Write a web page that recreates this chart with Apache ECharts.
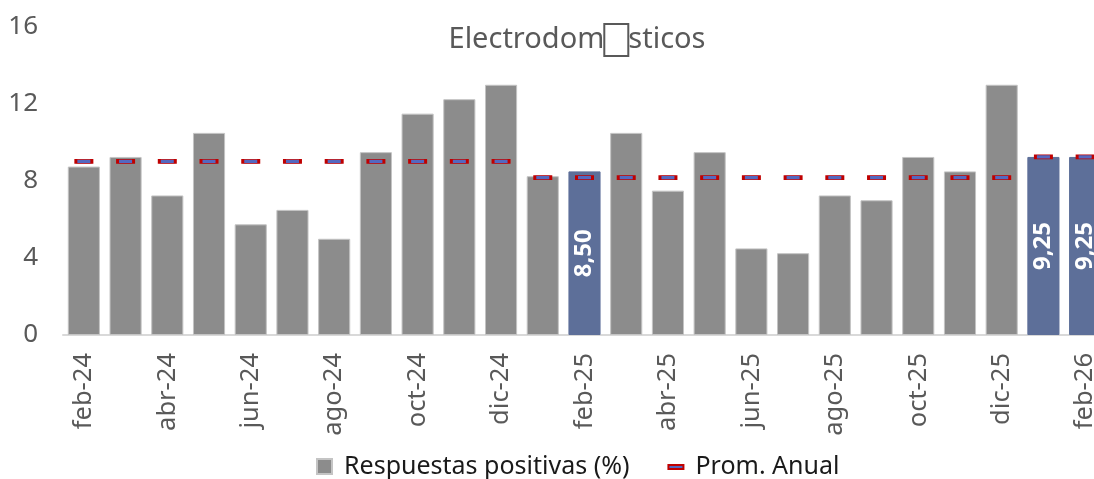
<!DOCTYPE html>
<html>
<head>
<meta charset="utf-8">
<script src="https://cdn.jsdelivr.net/npm/echarts@6/dist/echarts.min.js"></script>
<style>
  html, body { margin: 0; padding: 0; background: #fff; }
  #chart { width: 1094px; height: 479px; }
</style>
</head>
<body>
<div id="chart"></div>
<script>
// meses (cada 2 se muestra la etiqueta)
const meses = ['feb-24', 'mar-24', 'abr-24', 'may-24', 'jun-24', 'jul-24', 'ago-24', 'sep-24', 'oct-24', 'nov-24', 'dic-24',
  'ene-25', 'feb-25', 'mar-25', 'abr-25', 'may-25', 'jun-25', 'jul-25', 'ago-25', 'sep-25', 'oct-25', 'nov-25', 'dic-25',
  'ene-26', 'feb-26'];
const respuestas = [8.75, 9.25, 7.25, 10.5, 5.75, 6.5, 5.0, 9.5, 11.5, 12.25, 13.0,
  8.25, 8.5, 10.5, 7.5, 9.5, 4.5, 4.25, 7.25, 7.0, 9.25, 8.5, 13.0,
  9.25, 9.25];
const promAnual = [9.02, 9.02, 9.02, 9.02, 9.02, 9.02, 9.02, 9.02, 9.02, 9.02, 9.02,
  8.17, 8.17, 8.17, 8.17, 8.17, 8.17, 8.17, 8.17, 8.17, 8.17, 8.17, 8.17,
  9.25, 9.25];
const destacados = ['feb-25', 'ene-26', 'feb-26'];
const yTicks = [0, 4, 8, 12, 16];

const fuente = '"Noto Sans", "Open Sans", sans-serif';
const gris = '#8c8c8c', azul = '#5d6f99';

let ec = echarts.init(document.getElementById('chart'));

let barras = respuestas.map((v, i) => {
  let d = { value: v };
  if (destacados.indexOf(meses[i]) >= 0) {
    d.itemStyle = { color: azul, borderColor: azul };
    d.label = {
      show: true,
      position: 'inside',
      rotate: 90,
      color: '#fff',
      fontWeight: 'bold',
      fontSize: 24,
      fontFamily: fuente,
      formatter: p => p.value.toFixed(2).replace('.', ',')
    };
  }
  return d;
});

let option = {
  animation: false,
  title: {
    // el caracter que falta se ve como una caja en el original
    text: 'Electrodom{caja| }sticos',
    left: 572,
    textAlign: 'center',
    top: 19,
    textStyle: {
      fontFamily: fuente, fontSize: 29, fontWeight: 'normal', color: '#595959',
      rich: {
        caja: { width: 24, height: 28, borderColor: '#595959', borderWidth: 2, padding: [0, 0, 4, 0] }
      }
    }
  },
  legend: {
    top: 449,
    left: 311,
    itemWidth: 15,
    itemHeight: 15,
    itemGap: 38,
    textStyle: { fontFamily: fuente, fontSize: 25, color: '#1a1a1a', padding: [0, 0, 0, 7] },
    data: [
      { name: 'Respuestas positivas (%)', icon: 'rect' },
      { name: 'Prom. Anual', icon: 'path://M0,0 M0,6 L15,6 L15,10 L0,10 Z M15,15' }
    ]
  },
  grid: { left: 63, top: 27, width: 1043, bottom: 144, outerBoundsMode: 'none' },
  xAxis: {
    type: 'category',
    data: meses,
    axisTick: { show: false },
    axisLine: { lineStyle: { color: '#d9d9d9', width: 2 } },
    axisLabel: {
      interval: 1,
      rotate: 90,
      margin: 18,
      fontFamily: fuente,
      fontSize: 25.5,
      color: '#595959'
    }
  },
  yAxis: {
    type: 'value',
    min: yTicks[0],
    max: yTicks[yTicks.length - 1],
    interval: 4,
    splitLine: { show: false },
    axisLine: { show: false },
    axisTick: { show: false },
    axisLabel: { margin: 25, fontFamily: fuente, fontSize: 26, color: '#595959' }
  },
  series: [
    {
      name: 'Respuestas positivas (%)',
      type: 'bar',
      data: barras,
      barWidth: '77%',
      itemStyle: { color: gris, borderColor: '#c4c4c4', borderWidth: 1 }
    },
    {
      name: 'Prom. Anual',
      type: 'scatter',
      data: promAnual,
      symbol: 'rect',
      symbolSize: [16, 4],
      itemStyle: { color: '#5468c0', borderColor: '#c00000', borderWidth: 1.5, opacity: 1 },
      z: 5
    }
  ]
};

ec.setOption(option);
</script>
</body>
</html>
